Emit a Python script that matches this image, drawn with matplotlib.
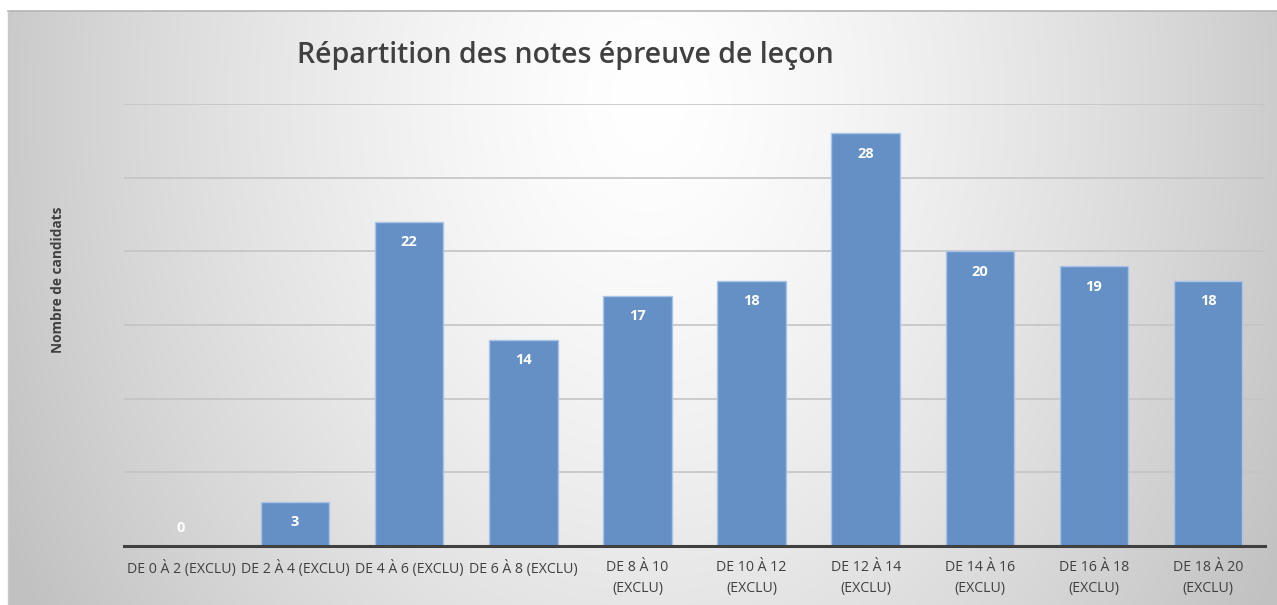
import numpy as np
import matplotlib
matplotlib.use("Agg")
import matplotlib.pyplot as plt

categories = ["DE 0 À 2 (EXCLU)", "DE 2 À 4 (EXCLU)", "DE 4 À 6 (EXCLU)", "DE 6 À 8 (EXCLU)",
              "DE 8 À 10\n(EXCLU)", "DE 10 À 12\n(EXCLU)", "DE 12 À 14\n(EXCLU)",
              "DE 14 À 16\n(EXCLU)", "DE 16 À 18\n(EXCLU)", "DE 18 À 20\n(EXCLU)"]
values = [0, 3, 22, 14, 17, 18, 28, 20, 19, 18]
title = "Répartition des notes épreuve de leçon"
ylabel = "Nombre de candidats"

W, H = 1277, 605
fig = plt.figure(figsize=(W / 100, H / 100), dpi=100)
fig.patch.set_facecolor("white")

# background gradient panel
bg = fig.add_axes([8 / W, 0, 1 - 8 / W, 1 - 11 / H])
yy, xx = np.mgrid[0:297, 0:635]
cx, cy = 320, 45
r = np.sqrt(((xx - cx) / 315) ** 2 + ((yy - cy) / 420) ** 2)
v = np.clip(1.0 - 0.2 * r ** 1.4, 0.76, 1.0)
img = np.dstack([v, v, v])
bg.imshow(img, aspect="auto", extent=[0, 1, 0, 1], origin="upper", interpolation="bilinear")
bg.set_xlim(0, 1); bg.set_ylim(0, 1)
bg.axis("off")
fig.add_artist(plt.Line2D([8 / W, 1], [1 - 11 / H, 1 - 11 / H], color="#b4b4b4", lw=1.2))
fig.add_artist(plt.Line2D([8 / W, 8 / W], [0, 1 - 11 / H], color="#c8c8c8", lw=1.0))

ax = fig.add_axes([124 / W, 1 - 546 / H, (1265 - 124) / W, (546 - 104) / H])
ax.set_facecolor("none")
x = np.arange(len(categories))
ax.bar(x, values, width=0.6, color="#6590C6", edgecolor="#a9c4e6", linewidth=1.0, zorder=3)
ax.set_xlim(-0.5, len(categories) - 0.5)
ax.set_ylim(0, 30)
ax.set_yticks([5, 10, 15, 20, 25, 30])
ax.yaxis.grid(True, color="#c4c4c4", lw=1.2, zorder=0)
ax.tick_params(axis="y", left=False, labelleft=False)
ax.tick_params(axis="x", length=0, pad=10)
for s in ["top", "right", "left"]:
    ax.spines[s].set_visible(False)
ax.spines["bottom"].set_color("#404040")
ax.spines["bottom"].set_linewidth(2.2)
ax.spines["bottom"].set_zorder(4)
ax.set_xticks(x)
ax.set_xticklabels(categories, fontsize=10.2, color="#404040", family="Open Sans", linespacing=1.6)

for xi, v_ in zip(x, values):
    ytxt = v_ - 1.4 if v_ > 0 else 1.2
    ax.text(xi, ytxt, str(v_), ha="center", va="center", color="white",
            fontsize=10.5, fontweight="bold", family="Open Sans", zorder=5)

fig.text(565 / W, 1 - 55 / H, title, ha="center", va="center", fontsize=20.5,
         fontweight="semibold", color="#404040", family="Open Sans")
fig.text(58 / W, 1 - 280 / H, ylabel, ha="center", va="center", rotation=90,
         fontsize=9.8, fontweight="bold", color="#404040", family="Open Sans")

fig.savefig("out.png", dpi=100)
